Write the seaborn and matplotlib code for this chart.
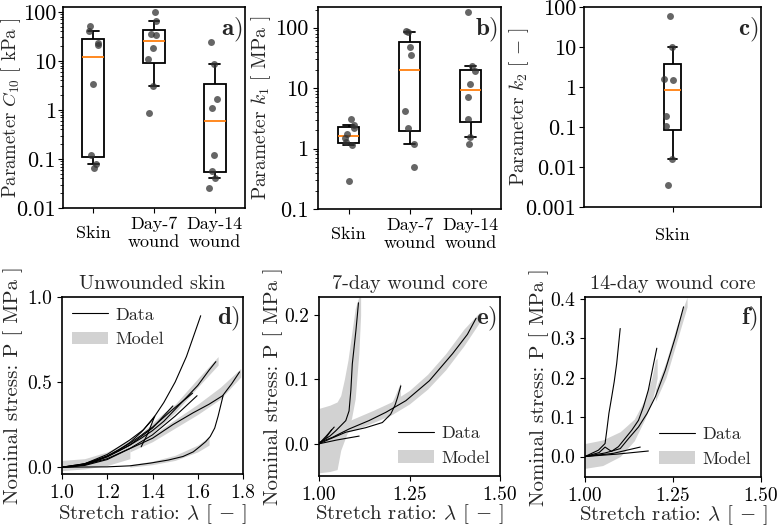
import numpy as np
import pandas as pd
import matplotlib
matplotlib.use("Agg")
import matplotlib.pyplot as plt
from matplotlib.lines import Line2D
from matplotlib.patches import Patch
from matplotlib.ticker import FormatStrFormatter, NullFormatter
import seaborn as sns

# fitted parameters, one value per specimen
groups = ["Skin", "Day-7\nwound", "Day-14\nwound"]
c10_skin = [0.064, 0.079, 0.12, 3.4, 21, 23, 41, 51]
c10_day7 = [0.85, 3.1, 11, 18, 33, 35, 65, 100]
c10_day14 = [0.0255, 0.041, 0.058, 0.12, 1.08, 1.67, 8.5, 23.8]

k1_skin = [0.29, 1.16, 1.26, 1.5, 1.74, 2.2, 2.48, 3.1]
k1_day7 = [0.5, 1.2, 2.2, 4.2, 36, 48, 85, 89]
k1_day14 = [1.2, 1.55, 3.1, 7, 11.5, 19, 23, 183]

k2_skin = [0.0035, 0.016, 0.104, 0.19, 1.5, 1.62, 10, 58.5]

# stress-stretch curves: (stretch, nominal stress in MPa)
skin_data = [
    ([1.0, 1.05, 1.1, 1.15, 1.2, 1.25, 1.3, 1.35, 1.4, 1.45, 1.5, 1.55, 1.6, 1.613],
     [0, 0.003, 0.015, 0.035, 0.065, 0.1, 0.145, 0.205, 0.28, 0.38, 0.5, 0.65, 0.84, 0.89]),
    ([1.0, 1.05, 1.1, 1.15, 1.2, 1.25, 1.3, 1.35, 1.4, 1.45, 1.5, 1.55, 1.6, 1.65, 1.68],
     [0, 0.005, 0.02, 0.04, 0.065, 0.095, 0.13, 0.17, 0.215, 0.27, 0.34, 0.41, 0.48, 0.57, 0.62]),
    ([1.0, 1.1, 1.2, 1.285, 1.4, 1.49, 1.58, 1.65, 1.71, 1.75, 1.785],
     [0, 0.01, 0.045, 0.10, 0.17, 0.25, 0.32, 0.37, 0.42, 0.49, 0.56]),
    ([1.0, 1.2, 1.3, 1.39, 1.47, 1.535, 1.58, 1.61, 1.635, 1.655, 1.675, 1.69, 1.712],
     [0, 0.002, 0.008, 0.024, 0.042, 0.063, 0.09, 0.122, 0.15, 0.18, 0.23, 0.30, 0.42]),
    ([1.0, 1.1, 1.2, 1.3, 1.4, 1.49, 1.577], [0, 0.02, 0.065, 0.14, 0.235, 0.34, 0.435]),
    ([1.0, 1.1, 1.2, 1.3, 1.4, 1.5, 1.597], [0, 0.015, 0.05, 0.11, 0.19, 0.30, 0.42]),
    ([1.0, 1.1, 1.2, 1.3, 1.36, 1.41, 1.38, 1.35], [0, 0.02, 0.075, 0.16, 0.22, 0.30, 0.20, 0.12]),
    ([1.0, 1.1, 1.2, 1.3, 1.4, 1.49], [0, 0.015, 0.06, 0.13, 0.23, 0.36]),
]
day7_data = [
    ([1.0, 1.01, 1.03, 1.046, 1.06, 1.074, 1.083, 1.088, 1.092, 1.097, 1.102, 1.106, 1.109],
     [0, 0.005, 0.012, 0.02, 0.028, 0.036, 0.051, 0.083, 0.124, 0.15, 0.176, 0.2, 0.219]),
    ([1.0, 1.037, 1.083, 1.138, 1.185, 1.24, 1.305, 1.369, 1.41, 1.434],
     [0.002, 0.01, 0.023, 0.036, 0.049, 0.067, 0.098, 0.14, 0.17, 0.195]),
    ([1.0, 1.028, 1.074, 1.129, 1.175, 1.198, 1.21, 1.217, 1.226],
     [0, 0.007, 0.018, 0.025, 0.033, 0.046, 0.06, 0.072, 0.09]),
    ([1.0, 1.02, 1.042], [0, 0.012, 0.026]),
    ([1.0, 1.05, 1.111], [0, 0.006, 0.012]),
    ([1.0, 1.02, 1.035], [0, 0.01, 0.022]),
]
day14_data = [
    ([1.0, 1.038, 1.057, 1.062, 1.068, 1.076, 1.083, 1.09, 1.095, 1.10],
     [0, 0.016, 0.033, 0.067, 0.11, 0.152, 0.19, 0.236, 0.28, 0.325]),
    ([1.0, 1.04, 1.057, 1.075, 1.095, 1.114, 1.133, 1.152, 1.166, 1.18, 1.195, 1.204],
     [0, 0.01, 0.024, 0.013, 0.025, 0.046, 0.067, 0.092, 0.126, 0.169, 0.236, 0.275]),
    ([1.0, 1.057, 1.1, 1.124, 1.152, 1.176, 1.2, 1.228, 1.257, 1.28],
     [0, 0.009, 0.02, 0.046, 0.075, 0.109, 0.152, 0.219, 0.304, 0.38]),
    ([1.0, 1.09, 1.18], [0, 0.006, 0.014]),
    ([1.0, 1.08, 1.157], [0, 0.008, 0.024]),
]

# model prediction bands: (stretch, lower, upper)
skin_model = [
    ([1.0, 1.1, 1.2, 1.3], [-0.02, -0.01, 0.01, 0.05], [0.04, 0.05, 0.09, 0.16]),
    ([1.3, 1.4, 1.5, 1.6, 1.69], [0.12, 0.2, 0.32, 0.47, 0.6], [0.15, 0.24, 0.37, 0.52, 0.65]),
    ([1.3, 1.4, 1.5, 1.6, 1.7, 1.79], [0.09, 0.15, 0.23, 0.31, 0.40, 0.53], [0.12, 0.19, 0.28, 0.37, 0.47, 0.58]),
    ([1.3, 1.4, 1.5, 1.6, 1.65], [0.0, 0.015, 0.04, 0.09, 0.13], [0.015, 0.035, 0.07, 0.13, 0.18]),
    ([1.35, 1.4, 1.45, 1.5], [0.17, 0.22, 0.28, 0.33], [0.2, 0.26, 0.32, 0.37]),
]
day7_model = [
    ([1.0, 1.03, 1.05, 1.06, 1.07, 1.08, 1.09, 1.1, 1.11, 1.115],
     [-0.045, -0.043, -0.04, -0.01, 0.005, 0.02, 0.04, 0.07, 0.14, 0.2],
     [0.055, 0.06, 0.065, 0.075, 0.1, 0.13, 0.17, 0.21, 0.228, 0.228]),
    ([1.05, 1.1, 1.15, 1.2, 1.25, 1.3, 1.35, 1.4, 1.445],
     [0.012, 0.022, 0.033, 0.045, 0.062, 0.085, 0.115, 0.152, 0.19],
     [0.028, 0.04, 0.052, 0.065, 0.083, 0.108, 0.14, 0.178, 0.205]),
    ([1.19, 1.21, 1.225], [0.04, 0.055, 0.07], [0.05, 0.075, 0.095]),
]
day14_model = [
    ([1.0, 1.05, 1.1, 1.14, 1.17, 1.19, 1.2, 1.205],
     [-0.03, -0.023, 0.0, 0.04, 0.095, 0.14, 0.175, 0.2],
     [0.033, 0.042, 0.063, 0.095, 0.145, 0.2, 0.245, 0.25]),
    ([1.2, 1.23, 1.26, 1.29], [0.14, 0.2, 0.29, 0.38], [0.17, 0.24, 0.33, 0.405]),
]

sns.set_style("ticks")
plt.rcParams["font.family"] = ["cmr10", "DejaVu Serif"]
plt.rcParams["mathtext.fontset"] = "cm"
plt.rcParams["axes.formatter.use_mathtext"] = True
plt.rcParams["axes.edgecolor"] = "black"
plt.rcParams["axes.linewidth"] = 1.2
plt.rcParams["xtick.color"] = "black"
plt.rcParams["ytick.color"] = "black"
plt.rcParams["font.size"] = 13

W, H = 777, 529
fig = plt.figure(figsize=(W / 100, H / 100), dpi=100)


def add_ax(l, t, r, b):
    return fig.add_axes([l / W, 1 - b / H, (r - l) / W, (b - t) / H])


def box_panel(ax, order, values, ylabel, ylim, ticks, tick_labels, width, jitter,
              label_x, ypad, xpad, label_size=14):
    df = pd.DataFrame({
        "group": [g for g, v in zip(order, values) for _ in v],
        "value": [x for v in values for x in v],
    })
    sns.boxplot(data=df, x="group", y="value", order=order, ax=ax, whis=(5, 95),
                width=width, showfliers=False, color="white", linecolor="black",
                linewidth=1.3, medianprops={"color": "#ff7f0e", "linewidth": 1.3},
                whiskerprops={"color": "black"}, capprops={"color": "black"})
    sns.stripplot(data=df, x="group", y="value", order=order, ax=ax, color="#333333",
                  alpha=0.75, size=5, jitter=jitter, zorder=4)
    ax.set_yscale("log")
    ax.set_ylim(*ylim)
    ax.set_yticks(ticks)
    ax.set_yticklabels(tick_labels)
    ax.yaxis.set_minor_formatter(NullFormatter())
    ax.set_xlabel("")
    ax.set_ylabel(ylabel, fontsize=label_size)
    ax.yaxis.set_label_coords(label_x, 0.5)
    ax.tick_params(axis="y", labelsize=16, pad=ypad)
    ax.tick_params(axis="x", labelsize=13, pad=xpad)
    for t in ax.get_xticklabels():
        t.set_verticalalignment("center")


def curve_panel(ax, curves, bands, title, xlim, ylim, xticks, yticks, xfmt, legend_loc,
                label_x, label_y):
    for lam, lo, hi in bands:
        ax.fill_between(lam, lo, hi, color="#d2d2d2", lw=0, zorder=1)
    for lam, p in curves:
        sns.lineplot(x=lam, y=p, sort=False, estimator=None, color="black",
                     lw=0.8, ax=ax, zorder=2)
    ax.set_xlim(*xlim)
    ax.set_ylim(*ylim)
    ax.set_xticks(xticks)
    ax.set_yticks(yticks)
    ax.xaxis.set_major_formatter(FormatStrFormatter(xfmt))
    ax.yaxis.set_major_formatter(FormatStrFormatter("%.1f"))
    ax.set_title(title, fontsize=14.5)
    ax.set_xlabel(r"Stretch ratio: $\lambda$ [ $-$ ]", fontsize=15)
    ax.set_ylabel("Nominal stress: P [ MPa ]", fontsize=15)
    ax.yaxis.set_label_coords(label_x, 0.5)
    ax.xaxis.set_label_coords(0.5, label_y)
    ax.tick_params(labelsize=14)
    handles = [Line2D([], [], color="black", lw=0.8),
               Patch(facecolor="#d2d2d2", edgecolor="none")]
    ax.legend(handles, ["Data", "Model"], loc=legend_loc, frameon=False,
              fontsize=13, handlelength=2.0, handletextpad=0.4, borderaxespad=0.15)


def panel_label(ax, s):
    ax.text(0.985, 0.955, r"$\mathbf{" + s + ")}$", transform=ax.transAxes,
            ha="right", va="top", fontsize=18, zorder=6)


np.random.seed(3)

ax_a = add_ax(63, 7, 245, 208)
box_panel(ax_a, groups, [c10_skin, c10_day7, c10_day14], r"Parameter $C_{10}$ [ kPa ]",
          (0.01, 125), [0.01, 0.1, 1, 10, 100], ["0.01", "0.1", "1", "10", "100"],
          0.36, 0.1, -0.22, 1.5, 15, label_size=13.5)
panel_label(ax_a, "a")

ax_b = add_ax(318, 7, 501, 209)
box_panel(ax_b, groups, [k1_skin, k1_day7, k1_day14], r"Parameter $k_1$ [ MPa ]",
          (0.1, 220), [0.1, 1, 10, 100], ["0.1", "1", "10", "100"],
          0.36, 0.1, -0.246, 3.5, 15)
panel_label(ax_b, "b")

ax_c = add_ax(584, 7, 761, 207)
box_panel(ax_c, ["Skin"], [k2_skin], r"Parameter $k_2$ [ $-$ ]",
          (0.001, 100), [0.001, 0.01, 0.1, 1, 10, 100],
          ["0.001", "0.01", "0.1", "1", "10", "100"], 0.3, 0.18, -0.30, 2, 17)
ax_c.set_xlim(-1.5, 1.5)
panel_label(ax_c, "c")

ax_d = add_ax(62, 297, 243, 474)
curve_panel(ax_d, skin_data, skin_model, "Unwounded skin", (1.0, 1.8), (-0.04, 1.0),
            [1.0, 1.2, 1.4, 1.6, 1.8], [0.0, 0.5, 1.0], "%.1f", "upper left",
            -0.215, -0.158)
panel_label(ax_d, "d")

ax_e = add_ax(319, 297, 500, 476)
curve_panel(ax_e, day7_data, day7_model, "7-day wound core", (1.0, 1.5), (-0.05, 0.228),
            [1.0, 1.25, 1.5], [0.0, 0.1, 0.2], "%.2f", "lower right",
            -0.199, -0.148)
panel_label(ax_e, "e")

ax_f = add_ax(585, 297, 761, 477)
curve_panel(ax_f, day14_data, day14_model, "14-day wound core", (1.0, 1.5), (-0.052, 0.405),
            [1.0, 1.25, 1.5], [0.0, 0.1, 0.2, 0.3, 0.4], "%.2f", "lower right",
            -0.2045, -0.148)
panel_label(ax_f, "f")

fig.savefig("out.png", dpi=100)
